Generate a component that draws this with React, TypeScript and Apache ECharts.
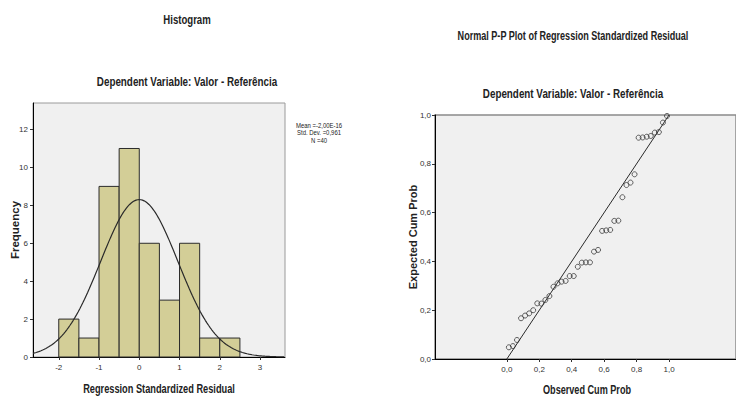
import React, { useEffect, useRef } from "react";
import * as echarts from "echarts";

// ---------- Histogram data ----------
const binEdges = [-2, -1.5, -1, -0.5, 0, 0.5, 1, 1.5, 2, 2.5];
const binCounts = [2, 1, 9, 11, 6, 3, 6, 1, 1];
const residMean = 0; // -2,00E-16
const residSd = 0.961;
const residN = 40;
const histXTicks = [-2, -1, 0, 1, 2, 3];
const histYTicks = [0, 2, 4, 6, 8, 10, 12];
const statsLines = ["Mean =-2,00E-16", "Std. Dev. =0,961", "N =40"];

// ---------- P-P plot data ----------
const observedCumProb = [
  0.0125, 0.0375, 0.0625, 0.0875, 0.1125, 0.1375, 0.1625, 0.1875, 0.2125, 0.2375,
  0.2625, 0.2875, 0.3125, 0.3375, 0.3625, 0.3875, 0.4125, 0.4375, 0.4625, 0.4875,
  0.5125, 0.5375, 0.5625, 0.5875, 0.6125, 0.6375, 0.6625, 0.6875, 0.7125, 0.7375,
  0.7625, 0.7875, 0.8125, 0.8375, 0.8625, 0.8875, 0.9125, 0.9375, 0.9625, 0.9875,
];
const expectedCumProb = [
  0.048, 0.053, 0.078, 0.167, 0.178, 0.187, 0.2, 0.228, 0.227, 0.242,
  0.258, 0.296, 0.31, 0.317, 0.32, 0.34, 0.34, 0.378, 0.395, 0.396,
  0.396, 0.44, 0.447, 0.525, 0.527, 0.529, 0.566, 0.567, 0.663, 0.713,
  0.723, 0.757, 0.907, 0.908, 0.911, 0.914, 0.928, 0.93, 0.969, 0.996,
];
const diagonal = [
  [0, 0],
  [1, 1],
];
const ppTicks = [0, 0.2, 0.4, 0.6, 0.8, 1.0];

const FONT = "'Liberation Sans', Arial, sans-serif";
const NARROW_SCALE = 0.8;

const fmtComma = (v: number) => v.toFixed(1).replace(".", ",");

export default function App() {
  const ref = useRef<HTMLDivElement>(null);

  useEffect(() => {
    if (!ref.current) return;
    const chart = echarts.init(ref.current, null, { renderer: "svg" });

    const histXMin = -2.64;
    const histXMax = 3.62;
    const curve: number[][] = [];
    const binW = binEdges[1] - binEdges[0];
    for (let x = histXMin; x <= histXMax + 1e-9; x += 0.04) {
      const z = (x - residMean) / residSd;
      const y = (residN * binW * Math.exp(-0.5 * z * z)) / (residSd * Math.sqrt(2 * Math.PI));
      curve.push([x, y]);
    }

    const barsData = binCounts.map((c, i) => [binEdges[i], binEdges[i + 1], c]);
    const ppData = observedCumProb.map((x, i) => [x, expectedCumProb[i]]);

    const tickLabelStyle = { fontSize: 8, color: "#333", fontFamily: FONT };

    const narrowText = (text: string, x: number, y: number, size: number, bold: boolean, scale = NARROW_SCALE) => ({
      type: "text",
      x,
      y,
      scaleX: scale,
      style: {
        text,
        align: "center",
        verticalAlign: "middle",
        textAlign: "center",
        textVerticalAlign: "middle",
        font: `${bold ? "bold " : ""}${size}px ${FONT}`,
        fill: "#222",
      },
    });

    const option: any = {
      animation: false,
      backgroundColor: "#ffffff",
      grid: [
        {
          left: 33,
          right: 451,
          top: 103,
          bottom: 39,
          show: true,
          backgroundColor: "#f0f0f0",
          borderColor: "#9a9a9a",
          borderWidth: 1,
        },
        {
          left: 435,
          right: -2,
          top: 115,
          bottom: 37,
          show: true,
          backgroundColor: "#f0f0f0",
          borderColor: "#8a8a8a",
          borderWidth: 1.5,
        },
      ],
      xAxis: [
        {
          gridIndex: 0,
          type: "value",
          min: histXMin,
          max: histXMax,
          axisLine: { show: true, onZero: false, lineStyle: { color: "#000", width: 1 } },
          axisTick: { show: true, length: 3, customValues: histXTicks, lineStyle: { color: "#333" } },
          axisLabel: { show: true, customValues: histXTicks, margin: 6, ...tickLabelStyle },
          splitLine: { show: false },
        },
        {
          gridIndex: 1,
          type: "value",
          min: -0.443,
          max: 1.413,
          axisLine: { show: true, onZero: false, lineStyle: { color: "#000", width: 1 } },
          axisTick: { show: true, length: 3, customValues: ppTicks, lineStyle: { color: "#333" } },
          axisLabel: { show: true, customValues: ppTicks, margin: 6, formatter: fmtComma, ...tickLabelStyle },
          splitLine: { show: false },
        },
      ],
      yAxis: [
        {
          gridIndex: 0,
          type: "value",
          min: 0,
          max: 13.4,
          axisLine: { show: true, onZero: false, lineStyle: { color: "#000", width: 1 } },
          axisTick: { show: true, length: 3, customValues: histYTicks, lineStyle: { color: "#333" } },
          axisLabel: { show: true, customValues: histYTicks, margin: 5, ...tickLabelStyle },
          splitLine: { show: false },
          name: "Frequency",
          nameLocation: "middle",
          nameGap: 12,
          nameMoveOverlap: false,
          nameTextStyle: { fontSize: 11.5, fontWeight: "bold", fontFamily: FONT, color: "#222" },
        },
        {
          gridIndex: 1,
          type: "value",
          min: 0,
          max: 1,
          axisLine: { show: true, onZero: false, lineStyle: { color: "#000", width: 1 } },
          axisTick: { show: true, length: 3, customValues: ppTicks, lineStyle: { color: "#333" } },
          axisLabel: { show: true, customValues: ppTicks, margin: 4, formatter: fmtComma, ...tickLabelStyle },
          splitLine: { show: false },
          name: "Expected Cum Prob",
          nameLocation: "middle",
          nameGap: 17,
          nameMoveOverlap: false,
          nameTextStyle: { fontSize: 11, fontWeight: "bold", fontFamily: FONT, color: "#222" },
        },
      ],
      series: [
        {
          type: "custom",
          xAxisIndex: 0,
          yAxisIndex: 0,
          data: barsData,
          encode: { x: [0, 1], y: 2 },
          renderItem: (_params: any, api: any) => {
            const p0 = api.coord([api.value(0), api.value(2)]);
            const p1 = api.coord([api.value(1), 0]);
            return {
              type: "rect",
              shape: { x: p0[0], y: p0[1], width: p1[0] - p0[0], height: p1[1] - p0[1] },
              style: { fill: "#d3ce97", stroke: "#2b2b2b", lineWidth: 1 },
            };
          },
          z: 2,
        },
        {
          type: "line",
          xAxisIndex: 0,
          yAxisIndex: 0,
          data: curve,
          showSymbol: false,
          symbol: "none",
          lineStyle: { color: "#2a2a2a", width: 1.2 },
          z: 3,
        },
        {
          type: "line",
          xAxisIndex: 1,
          yAxisIndex: 1,
          data: diagonal,
          showSymbol: false,
          symbol: "none",
          lineStyle: { color: "#2a2a2a", width: 1 },
          z: 2,
        },
        {
          type: "scatter",
          xAxisIndex: 1,
          yAxisIndex: 1,
          data: ppData,
          symbol: "circle",
          symbolSize: 5,
          itemStyle: { color: "rgba(0,0,0,0)", borderColor: "#3a3a3a", borderWidth: 1 },
          z: 3,
        },
      ],
      graphic: [
        narrowText("Histogram", 187, 20, 12, true),
        narrowText("Dependent Variable: Valor - Referência", 187, 82, 12, true, 0.82),
        narrowText("Normal P-P Plot of Regression Standardized Residual", 573, 35, 12, true, 0.755),
        narrowText("Dependent Variable: Valor - Referência", 573, 94, 12, true, 0.82),
        narrowText("Regression Standardized Residual", 159, 389, 12, true, 0.77),
        narrowText("Observed Cum Prob", 587, 389, 12, true, 0.76),
        ...statsLines.map((t, i) => narrowText(t, 319, 125 + i * 7.5, 7, false, 0.85)),
      ],
    };

    chart.setOption(option);
    return () => chart.dispose();
  }, []);

  return (
    <div
      ref={ref}
      style={{ position: "fixed", left: 0, top: 0, width: 736, height: 396, background: "#fff" }}
    />
  );
}
